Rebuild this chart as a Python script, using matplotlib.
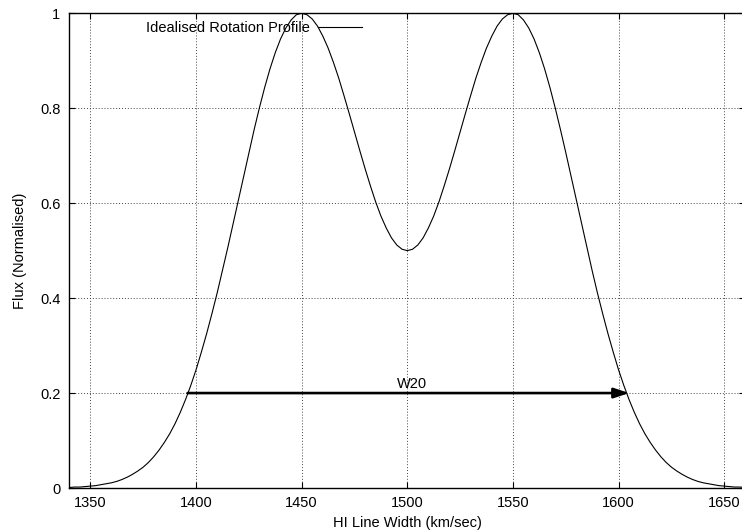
import matplotlib
matplotlib.use("Agg")
import matplotlib.pyplot as plt

# ---- data ----
velocity = [1340.0, 1342.5, 1345.0, 1347.5, 1350.0, 1352.5, 1355.0, 1357.5, 1360.0, 1362.5,
            1365.0, 1367.5, 1370.0, 1372.5, 1375.0, 1377.5, 1380.0, 1382.5, 1385.0, 1387.5,
            1390.0, 1392.5, 1395.0, 1397.5, 1400.0, 1402.5, 1405.0, 1407.5, 1410.0, 1412.5,
            1415.0, 1417.5, 1420.0, 1422.5, 1425.0, 1427.5, 1430.0, 1432.5, 1435.0, 1437.5,
            1440.0, 1442.5, 1445.0, 1447.5, 1450.0, 1452.5, 1455.0, 1457.5, 1460.0, 1462.5,
            1465.0, 1467.5, 1470.0, 1472.5, 1475.0, 1477.5, 1480.0, 1482.5, 1485.0, 1487.5,
            1490.0, 1492.5, 1495.0, 1497.5, 1500.0,
            1502.5, 1505.0, 1507.5, 1510.0, 1512.5, 1515.0, 1517.5, 1520.0, 1522.5, 1525.0,
            1527.5, 1530.0, 1532.5, 1535.0, 1537.5, 1540.0, 1542.5, 1545.0, 1547.5, 1550.0,
            1552.5, 1555.0, 1557.5, 1560.0, 1562.5, 1565.0, 1567.5, 1570.0, 1572.5, 1575.0,
            1577.5, 1580.0, 1582.5, 1585.0, 1587.5, 1590.0, 1592.5, 1595.0, 1597.5, 1600.0,
            1602.5, 1605.0, 1607.5, 1610.0, 1612.5, 1615.0, 1617.5, 1620.0, 1622.5, 1625.0,
            1627.5, 1630.0, 1632.5, 1635.0, 1637.5, 1640.0, 1642.5, 1645.0, 1647.5, 1650.0,
            1652.5, 1655.0, 1657.5, 1660.0]
flux = [0.001, 0.002, 0.002, 0.003, 0.004, 0.005, 0.007, 0.009, 0.011, 0.014,
        0.018, 0.023, 0.029, 0.036, 0.044, 0.054, 0.066, 0.080, 0.096, 0.114,
        0.135, 0.159, 0.186, 0.216, 0.249, 0.286, 0.325, 0.367, 0.411, 0.458,
        0.506, 0.556, 0.607, 0.657, 0.707, 0.755, 0.801, 0.844, 0.883, 0.917,
        0.946, 0.969, 0.986, 0.997, 1.000, 0.997, 0.988, 0.973, 0.952, 0.927,
        0.897, 0.864, 0.827, 0.789, 0.750, 0.711, 0.673, 0.637, 0.603, 0.573,
        0.548, 0.527, 0.512, 0.503, 0.500,
        0.503, 0.512, 0.527, 0.548, 0.573, 0.603, 0.637, 0.673, 0.711, 0.750,
        0.789, 0.827, 0.864, 0.897, 0.927, 0.952, 0.973, 0.988, 0.997, 1.000,
        0.997, 0.986, 0.969, 0.946, 0.917, 0.883, 0.844, 0.801, 0.755, 0.707,
        0.657, 0.607, 0.556, 0.506, 0.458, 0.411, 0.367, 0.325, 0.286, 0.249,
        0.216, 0.186, 0.159, 0.135, 0.114, 0.096, 0.080, 0.066, 0.054, 0.044,
        0.036, 0.029, 0.023, 0.018, 0.014, 0.011, 0.009, 0.007, 0.005, 0.004,
        0.003, 0.002, 0.002, 0.001]
series_label = "Idealised Rotation Profile"
x_ticks = [1350, 1400, 1450, 1500, 1550, 1600, 1650]
y_ticks = [0, 0.2, 0.4, 0.6, 0.8, 1.0]
y_tick_labels = ["0", "0.2", "0.4", "0.6", "0.8", "1"]
w20_start = 1396
w20_end = 1605
w20_level = 0.2
w20_label = "W20"
w20_label_pos = (1495, 0.219)

plt.rcParams['font.family'] = ['Liberation Sans', 'DejaVu Sans']
FS = 10.5

fig = plt.figure(figsize=(7.42, 5.32), dpi=100)
ax = fig.add_axes([69.3 / 742, 44 / 532, 676 / 742, 474.7 / 532])

ax.plot(velocity, flux, color='black', lw=0.8, label=series_label, zorder=3)

ax.annotate('', xy=(w20_end, w20_level), xytext=(w20_start, w20_level),
            arrowprops=dict(arrowstyle='-|>,head_length=0.9,head_width=0.3',
                            mutation_scale=10, color='black', lw=1.9,
                            shrinkA=0, shrinkB=0), zorder=4)
ax.text(w20_label_pos[0], w20_label_pos[1], w20_label, fontsize=FS,
        ha='left', va='center')

ax.set_xlim(1340, 1660)
ax.set_ylim(0, 1)
ax.set_xticks(x_ticks)
ax.set_yticks(y_ticks)
ax.set_yticklabels(y_tick_labels)
ax.tick_params(direction='in', length=4.5, width=0.8, top=True, right=True,
               labelsize=FS, colors='black')
ax.tick_params(axis='x', pad=6)
ax.tick_params(axis='y', pad=6.5)

ax.grid(True, color='#444444', linestyle=(0, (1, 2)), linewidth=0.7)
ax.set_axisbelow(True)
for s in ax.spines.values():
    s.set_linewidth(1.0)
    s.set_color('black')

ax.set_xlabel("HI Line Width (km/sec)", fontsize=FS, labelpad=4)
ax.set_ylabel("Flux (Normalised)", fontsize=FS, labelpad=9)

ax.legend(loc='center right', bbox_to_anchor=(362 / 742, 1 - 27.7 / 532),
          bbox_transform=fig.transFigure, borderpad=0, borderaxespad=0,
          handlelength=3.0, handletextpad=0.55, markerfirst=False,
          frameon=False, fontsize=FS)

fig.savefig("out.png", dpi=100)
